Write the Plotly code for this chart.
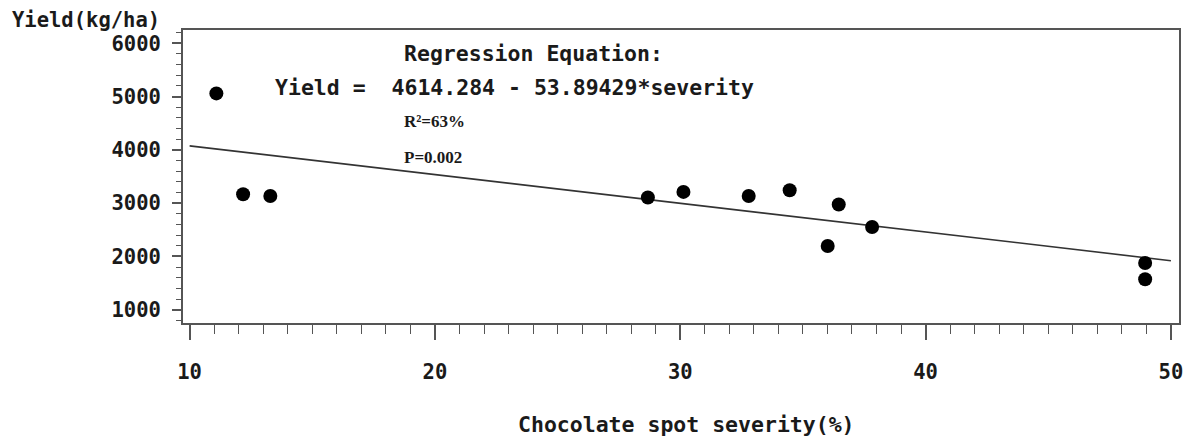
import plotly.graph_objects as go

# ---- data ----
severity = [11.09, 12.18, 13.29, 28.68, 30.13, 32.79, 34.46, 36.01, 36.46, 37.82, 48.95, 48.95]
yield_kg = [5060, 3167, 3135, 3105, 3211, 3135, 3242, 2195, 2974, 2553, 1876, 1570]

intercept = 4614.284
slope = -53.89429
fit_x = [10, 50]
fit_y = [intercept + slope * v for v in fit_x]

x_ticks = [10, 20, 30, 40, 50]
y_ticks = [1000, 2000, 3000, 4000, 5000, 6000]

MONO = "DejaVu Sans Mono"
SERIF = "Liberation Serif"
AX = "#555555"

fig = go.Figure()
fig.add_trace(go.Scatter(x=fit_x, y=fit_y, mode="lines",
                         line=dict(color="#333333", width=1.6),
                         showlegend=False, hoverinfo="skip"))
fig.add_trace(go.Scatter(x=severity, y=yield_kg, mode="markers",
                         marker=dict(color="black", size=14, line=dict(width=0)),
                         showlegend=False))

fig.update_layout(
    width=1196, height=436,
    margin=dict(l=183, r=17, t=30, b=113, pad=0),
    paper_bgcolor="white", plot_bgcolor="white",
    font=dict(family=MONO, color="#1a1a1a"),
)

fig.update_xaxes(
    range=[9.73, 50.33], tickvals=x_ticks, ticktext=[f"<b>{v}</b>" for v in x_ticks],
    showgrid=False, zeroline=False, automargin=False,
    showline=True, linecolor=AX, linewidth=2, mirror=True,
    ticks="outside", ticklen=15, tickwidth=1.5, tickcolor=AX,
    minor=dict(dtick=1, tick0=10, ticks="outside", ticklen=9, tickwidth=1.2, tickcolor=AX),
    tickfont=dict(family=MONO, size=20.5, color="#1a1a1a"),
    ticklabelstandoff=14,
)
fig.update_yaxes(
    range=[750, 6250], tickvals=y_ticks, ticktext=[f"<b>{v}</b>" for v in y_ticks],
    showgrid=False, zeroline=False, automargin=False,
    showline=True, linecolor=AX, linewidth=2, mirror=True,
    ticks="outside", ticklen=9, tickwidth=1.5, tickcolor=AX,
    minor=dict(dtick=200, tick0=0, ticks="outside", ticklen=5, tickwidth=1.2, tickcolor=AX),
    tickfont=dict(family=MONO, size=20.5, color="#1a1a1a"),
    ticklabelstandoff=7,
)

ann = [
    dict(text="<b>Yield(kg/ha)</b>", xref="paper", yref="paper",
         x=-0.1737, y=1.034, xanchor="left", yanchor="middle",
         font=dict(family=MONO, size=20.5)),
    dict(text="<b>Chocolate spot severity(%)</b>", xref="paper", yref="paper",
         x=0.506, y=-0.346, xanchor="center", yanchor="middle",
         font=dict(family=MONO, size=21.5)),
    dict(text="<b>Regression Equation:</b>", xref="x", yref="y",
         x=18.65, y=5812, xanchor="left", yanchor="middle",
         font=dict(family=MONO, size=21.5)),
    dict(text="<b>Yield =  4614.284 - 53.89429*severity</b>", xref="x", yref="y",
         x=13.39, y=5179, xanchor="left", yanchor="middle",
         font=dict(family=MONO, size=21.5)),
    dict(text="<b>R²=63%</b>", xref="x", yref="y",
         x=18.64, y=4526, xanchor="left", yanchor="middle",
         font=dict(family=SERIF, size=17)),
    dict(text="<b>P=0.002</b>", xref="x", yref="y",
         x=18.64, y=3857, xanchor="left", yanchor="middle",
         font=dict(family=SERIF, size=17)),
]
for a in ann:
    a["showarrow"] = False
    a["font"]["color"] = "#1a1a1a"
fig.update_layout(annotations=ann)

fig.write_html("out.html",
               config={"displayModeBar": False},
               post_script="document.body.style.margin='0';document.body.style.padding='0';")
